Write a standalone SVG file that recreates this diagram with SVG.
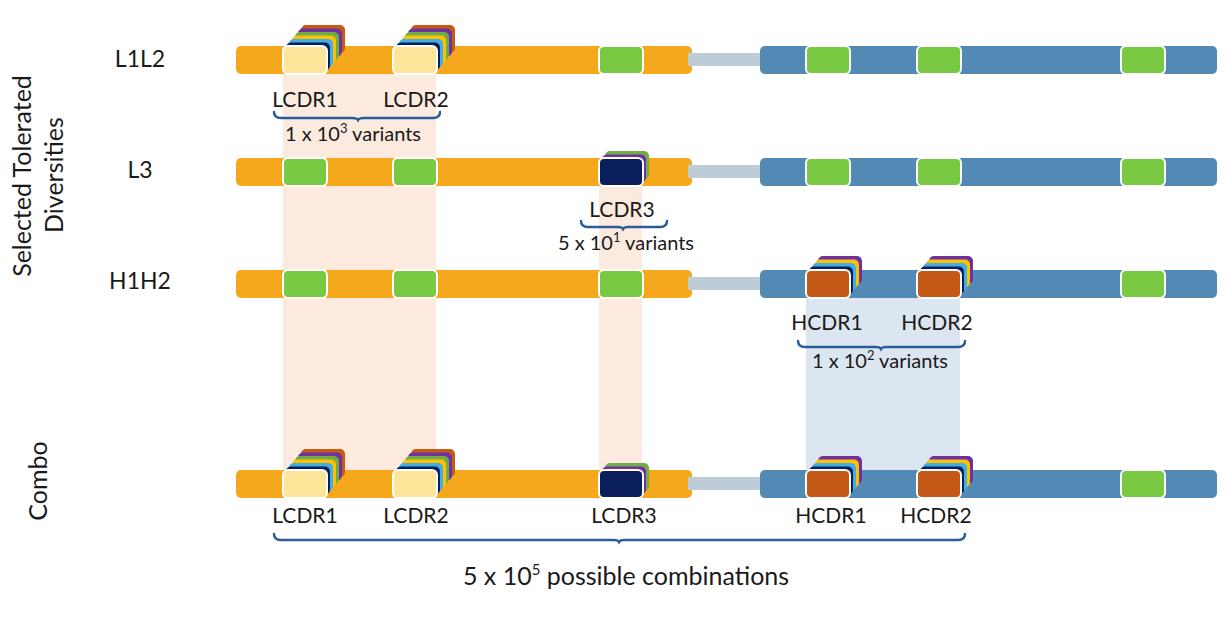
<svg xmlns="http://www.w3.org/2000/svg" xmlns:xlink="http://www.w3.org/1999/xlink" width="1224" height="622" viewBox="0 0 1224 622">
<style>
.t{font-family:Lato,"Open Sans","Liberation Sans",sans-serif;fill:#1a1a1a;text-anchor:middle}
.lbl{font-size:21px}
.row{font-size:23px}
.var{font-size:20px}
.side{font-size:25px}
.big{font-size:25px}
.brace{fill:none;stroke:#2A5C9A;stroke-width:2.5;stroke-linecap:round}
.orange{fill:#F5A81C}
.blue{fill:#5289B5}
.gray{fill:#BDCCD6}
.slot{stroke:#fff;stroke-width:2}
</style>
<defs>
<rect id="card" width="44" height="28" rx="5"/>
<g id="stack6">
<use xlink:href="#card" x="18" y="-21" fill="#C55A11"/>
<use xlink:href="#card" x="15" y="-17.5" fill="#7030A0"/>
<use xlink:href="#card" x="12" y="-14" fill="#70AD47"/>
<use xlink:href="#card" x="9" y="-10.5" fill="#FFC000"/>
<use xlink:href="#card" x="6" y="-7" fill="#41AEE4"/>
<use xlink:href="#card" x="3" y="-3.5" fill="#002060"/>
</g>
<g id="stack4">
<use xlink:href="#card" x="12" y="-14" fill="#7030A0"/>
<use xlink:href="#card" x="9" y="-10.5" fill="#FFC000"/>
<use xlink:href="#card" x="6" y="-7" fill="#41AEE4"/>
<use xlink:href="#card" x="3" y="-3.5" fill="#002060"/>
</g>
<g id="stack2">
<use xlink:href="#card" x="6" y="-7" fill="#70AD47"/>
<use xlink:href="#card" x="3" y="-3.5" fill="#7030A0"/>
</g>
<g id="chain">
<rect x="236" y="0" width="456" height="28" rx="5" class="orange"/>
<rect x="688" y="7" width="76" height="13" class="gray"/>
<rect x="760" y="0" width="457" height="28" rx="5" class="blue"/>
</g>
</defs>

<g id="bands">
<rect x="283" y="74" width="153" height="396" fill="#FCEADF"/>
<rect x="599" y="186" width="43" height="284" fill="#FCEADF"/>
<rect x="806" y="298" width="154" height="172" fill="#DCE6F1"/>
</g>

<g id="side-labels">
<text class="t side" transform="translate(31,176) rotate(-90)">Selected Tolerated</text>
<text class="t side" transform="translate(63,175) rotate(-90)">Diversities</text>
<text class="t side" transform="translate(47,481) rotate(-90)">Combo</text>
<text class="t row" x="140" y="67">L1L2</text>
<text class="t row" x="140" y="178">L3</text>
<text class="t row" x="140" y="289">H1H2</text>
</g>

<g id="row-L1L2">
<use xlink:href="#chain" y="46"/>
<use xlink:href="#stack6" x="283" y="46"/>
<use xlink:href="#stack6" x="393" y="46"/>
<rect x="283" y="46" width="44" height="28" rx="5" fill="#FDE59A" class="slot"/>
<rect x="393" y="46" width="44" height="28" rx="5" fill="#FDE59A" class="slot"/>
<rect x="599" y="46" width="44" height="28" rx="5" fill="#7AC943" class="slot"/>
<rect x="806" y="46" width="44" height="28" rx="5" fill="#7AC943" class="slot"/>
<rect x="917" y="46" width="44" height="28" rx="5" fill="#7AC943" class="slot"/>
<rect x="1121" y="46" width="44" height="28" rx="5" fill="#7AC943" class="slot"/>
<text class="t lbl" x="305" y="107">LCDR1</text>
<text class="t lbl" x="416" y="107">LCDR2</text>
<text class="t var" x="353" y="141">1 x 10<tspan font-size="13" dy="-8">3</tspan><tspan dy="8"> variants</tspan></text>
</g>

<g id="row-L3">
<use xlink:href="#chain" y="158"/>
<rect x="283" y="158" width="44" height="28" rx="5" fill="#7AC943" class="slot"/>
<rect x="393" y="158" width="44" height="28" rx="5" fill="#7AC943" class="slot"/>
<use xlink:href="#stack2" x="599" y="158"/>
<rect x="599" y="158" width="44" height="28" rx="5" fill="#0A1F5C" class="slot"/>
<rect x="806" y="158" width="44" height="28" rx="5" fill="#7AC943" class="slot"/>
<rect x="917" y="158" width="44" height="28" rx="5" fill="#7AC943" class="slot"/>
<rect x="1121" y="158" width="44" height="28" rx="5" fill="#7AC943" class="slot"/>
<text class="t lbl" x="622" y="217">LCDR3</text>
<text class="t var" x="626" y="250">5 x 10<tspan font-size="13" dy="-8">1</tspan><tspan dy="8"> variants</tspan></text>
</g>

<g id="row-H1H2">
<use xlink:href="#chain" y="270"/>
<rect x="283" y="270" width="44" height="28" rx="5" fill="#7AC943" class="slot"/>
<rect x="393" y="270" width="44" height="28" rx="5" fill="#7AC943" class="slot"/>
<rect x="599" y="270" width="44" height="28" rx="5" fill="#7AC943" class="slot"/>
<use xlink:href="#stack4" x="806" y="270"/>
<use xlink:href="#stack4" x="917" y="270"/>
<rect x="806" y="270" width="44" height="28" rx="5" fill="#C55A18" class="slot"/>
<rect x="917" y="270" width="44" height="28" rx="5" fill="#C55A18" class="slot"/>
<rect x="1121" y="270" width="44" height="28" rx="5" fill="#7AC943" class="slot"/>
<text class="t lbl" x="827" y="330">HCDR1</text>
<text class="t lbl" x="937" y="330">HCDR2</text>
<text class="t var" x="880" y="368">1 x 10<tspan font-size="13" dy="-8">2</tspan><tspan dy="8"> variants</tspan></text>
</g>

<g id="row-Combo">
<use xlink:href="#chain" y="470"/>
<use xlink:href="#stack6" x="283" y="470"/>
<use xlink:href="#stack6" x="393" y="470"/>
<rect x="283" y="470" width="44" height="28" rx="5" fill="#FDE59A" class="slot"/>
<rect x="393" y="470" width="44" height="28" rx="5" fill="#FDE59A" class="slot"/>
<use xlink:href="#stack2" x="599" y="470"/>
<rect x="599" y="470" width="44" height="28" rx="5" fill="#0A1F5C" class="slot"/>
<use xlink:href="#stack4" x="806" y="470"/>
<use xlink:href="#stack4" x="917" y="470"/>
<rect x="806" y="470" width="44" height="28" rx="5" fill="#C55A18" class="slot"/>
<rect x="917" y="470" width="44" height="28" rx="5" fill="#C55A18" class="slot"/>
<rect x="1121" y="470" width="44" height="28" rx="5" fill="#7AC943" class="slot"/>
<text class="t lbl" x="305" y="523">LCDR1</text>
<text class="t lbl" x="416" y="523">LCDR2</text>
<text class="t lbl" x="624" y="523">LCDR3</text>
<text class="t lbl" x="831" y="523">HCDR1</text>
<text class="t lbl" x="936" y="523">HCDR2</text>
<text class="t big" x="626" y="585">5 x 10<tspan font-size="15" dy="-10">5</tspan><tspan dy="10"> possible combinations</tspan></text>
</g>

<g id="connectors">
<path class="brace" d="M274,112 Q274,118 281,118 L352,118 Q357,118 358,120 Q359,118 364,118 L433,118 Q440,118 440,112"/>
<path class="brace" d="M581,221 Q581,227 588,227 L618,227 Q622,227 623,229 Q624,227 628,227 L660,227 Q667,227 667,221"/>
<path class="brace" d="M798,341 Q798,347 805,347 L876,347 Q880,347 881,349 Q882,347 886,347 L958,347 Q965,347 965,341"/>
<path class="brace" d="M274,534 Q274,540 281,540 L614,540 Q618,540 619,542 Q620,540 624,540 L958,540 Q965,540 965,534"/>
</g>
</svg>
